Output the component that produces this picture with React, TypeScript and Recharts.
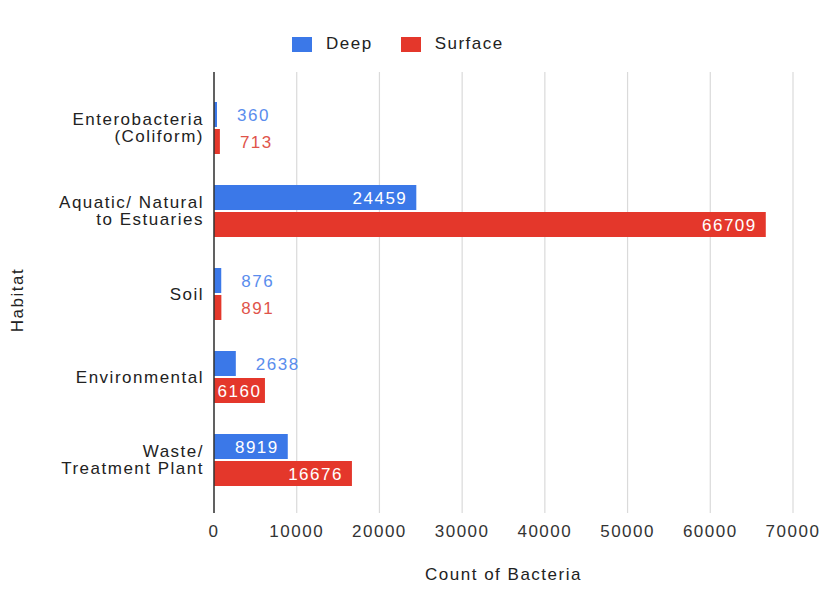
import React from 'react';
import { BarChart, Bar, XAxis, YAxis, CartesianGrid, Legend, LabelList, Label } from 'recharts';

// Habitat categories (line breaks mark where the axis label wraps)
const habitats = [
  'Enterobacteria\n(Coliform)',
  'Aquatic/ Natural\nto Estuaries',
  'Soil',
  'Environmental',
  'Waste/\nTreatment Plant',
];
const deepCounts = [360, 24459, 876, 2638, 8919];
const surfaceCounts = [713, 66709, 891, 6160, 16676];
const countTicks = [0, 10000, 20000, 30000, 40000, 50000, 60000, 70000];

const data = habitats.map((name, i) => ({
  name,
  deep: deepCounts[i],
  surface: surfaceCounts[i],
}));

const FONT = '"Liberation Sans", Arial, Helvetica, sans-serif';
const FS = 17;
const LS = 1.5;
const BLUE = '#3b78e8';
const RED = '#e4372b';
const BLUE_TEXT = '#5a8ded';
const RED_TEXT = '#e0544a';

const approxTextWidth = (s: string) => s.length * (FS * 0.556 + LS);

// Value label: white inside the bar when it fits, otherwise coloured just past the bar end
function makeValueLabel(outsideColor: string) {
  return (props: any) => {
    const { x, y, width, height, value } = props;
    const text = String(value);
    const tw = approxTextWidth(text);
    const cy = Number(y) + Number(height) / 2;
    const w = Number(width);
    if (tw + 4 <= w) {
      const pad = Math.min(9, (w - tw) / 2);
      return (
        <text
          x={Number(x) + w - pad}
          y={cy}
          dy="0.36em"
          textAnchor="end"
          fill="#ffffff"
          fontFamily={FONT}
          fontSize={FS}
          letterSpacing={LS}
        >
          {text}
        </text>
      );
    }
    return (
      <text
        x={Number(x) + w + 20}
        y={cy}
        dy="0.36em"
        textAnchor="start"
        fill={outsideColor}
        fontFamily={FONT}
        fontSize={FS}
        letterSpacing={LS}
      >
        {text}
      </text>
    );
  };
}

function HabitatTick(props: any) {
  const { x, y, payload } = props;
  const lines = String(payload.value).split('\n');
  const lh = 17.5;
  const start = -((lines.length - 1) * lh) / 2;
  return (
    <text textAnchor="end" fill="#222" fontFamily={FONT} fontSize={FS} letterSpacing={LS}>
      {lines.map((l, i) => (
        <tspan key={i} x={x} y={y + start + i * lh} dy="0.36em">
          {l}
        </tspan>
      ))}
    </text>
  );
}

function LegendContent() {
  const items = [
    { label: 'Deep', color: BLUE },
    { label: 'Surface', color: RED },
  ];
  return (
    <div style={{ height: 72, position: 'relative' }}>
      <div
        style={{
          position: 'absolute',
          top: 33,
          left: 292,
          display: 'flex',
          alignItems: 'center',
          fontFamily: FONT,
          fontSize: FS,
          letterSpacing: LS,
          color: '#222',
          lineHeight: '22px',
        }}
      >
        {items.map((it, i) => (
          <div key={it.label} style={{ display: 'flex', alignItems: 'center', marginRight: i === 0 ? 28 : 0 }}>
            <span style={{ display: 'inline-block', width: 20, height: 15, background: it.color, marginRight: 14 }} />
            <span>{it.label}</span>
          </div>
        ))}
      </div>
    </div>
  );
}

export default function App() {
  return (
    <div style={{ position: 'absolute', left: 0, top: 0, background: '#fff' }}>
      <BarChart
        width={826}
        height={592}
        data={data}
        layout="vertical"
        margin={{ top: 0, right: 33, bottom: 7, left: 0 }}
        barSize={25}
        barGap={2}
      >
        <Legend
          verticalAlign="top"
          align="left"
          content={<LegendContent />}
          wrapperStyle={{ left: 0, top: 0, width: 826 }}
        />
        <CartesianGrid horizontal={false} stroke="#dadada" strokeWidth={1.2} />
        <XAxis
          type="number"
          domain={[0, 70000]}
          ticks={countTicks}
          tickLine={false}
          axisLine={false}
          tickSize={0}
          tickMargin={12}
          height={72}
          tick={{ fill: '#333', fontFamily: FONT, fontSize: FS, letterSpacing: LS }}
        >
          <Label
            value="Count of Bacteria"
            position="insideBottom"
            offset={5}
            fill="#222"
            fontFamily={FONT}
            fontSize={FS}
            letterSpacing={LS}
          />
        </XAxis>
        <YAxis
          type="category"
          dataKey="name"
          width={214}
          tickLine={false}
          tickSize={0}
          tickMargin={10}
          axisLine={{ stroke: '#333', strokeWidth: 1.5 }}
          padding={{ top: 14, bottom: 12 }}
          tick={<HabitatTick />}
          interval={0}
        >
          <Label
            content={() => (
              <text
                x={23}
                y={300}
                transform="rotate(-90 23 300)"
                textAnchor="middle"
                fill="#222"
                fontFamily={FONT}
                fontSize={FS}
                letterSpacing={LS}
              >
                Habitat
              </text>
            )}
          />
        </YAxis>
        <Bar dataKey="deep" name="Deep" fill={BLUE} isAnimationActive={false}>
          <LabelList dataKey="deep" content={makeValueLabel(BLUE_TEXT)} />
        </Bar>
        <Bar dataKey="surface" name="Surface" fill={RED} isAnimationActive={false}>
          <LabelList dataKey="surface" content={makeValueLabel(RED_TEXT)} />
        </Bar>
      </BarChart>
    </div>
  );
}
